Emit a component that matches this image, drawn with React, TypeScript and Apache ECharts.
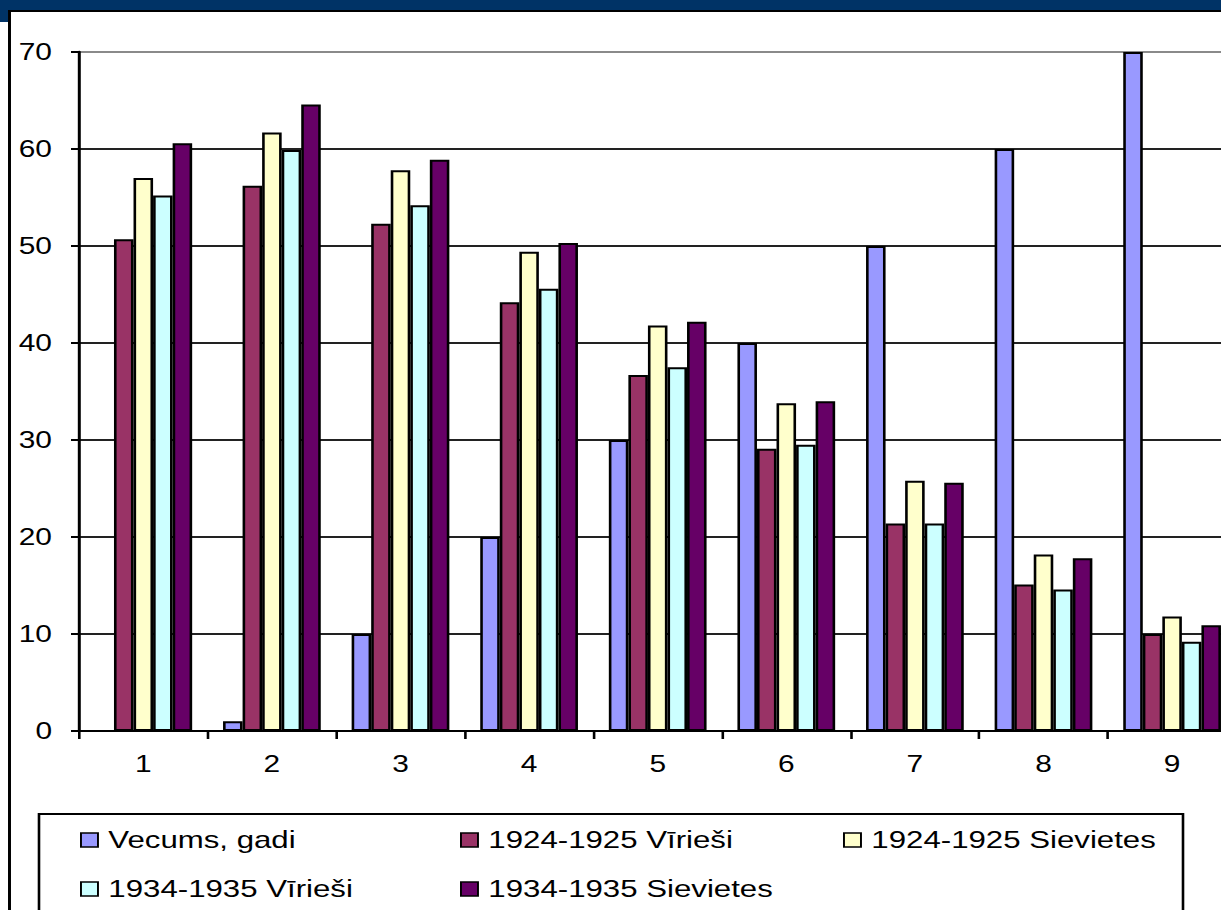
import React, { useEffect, useRef } from "react";
import * as echarts from "echarts";

const categories = ["1", "2", "3", "4", "5", "6", "7", "8", "9"];
const seriesNames = [
  "Vecums, gadi",
  "1924-1925 Vīrieši",
  "1924-1925 Sievietes",
  "1934-1935 Vīrieši",
  "1934-1935 Sievietes",
];
const vecums = [0, 1, 10, 20, 30, 40, 50, 60, 70];
const m1924 = [50.7, 56.2, 52.3, 44.2, 36.7, 29.1, 21.4, 15.1, 10.0];
const f1924 = [57.0, 61.7, 57.8, 49.4, 41.8, 33.8, 25.8, 18.2, 11.8];
const m1934 = [55.2, 59.9, 54.2, 45.6, 37.5, 29.5, 21.4, 14.6, 9.2];
const f1934 = [60.6, 64.6, 58.9, 50.3, 42.2, 34.0, 25.6, 17.8, 10.9];
const colors = ["#9999FF", "#993366", "#FFFFCC", "#CCFFFF", "#660066"];

const S = 1.3; // horizontal stretch of the picture
const W = 1221;
const H = 910;
const CW = Math.ceil(1245 / S);
const X = (px: number) => px / S;

export default function App() {
  const ref = useRef<HTMLDivElement>(null);
  useEffect(() => {
    if (!ref.current) return;
    const chart = echarts.init(ref.current, undefined, { renderer: "svg" });
    const font = "Liberation Sans";
    const data = [vecums, m1924, f1924, m1934, f1934];
    const legendPos = [
      [80, 828],
      [460, 828],
      [843, 828],
      [80, 877],
      [460, 877],
    ];
    const rich = { t: { color: "#000", fontSize: 23, fontFamily: font } };
    chart.setOption({
      animation: false,
      backgroundColor: "#fff",
      grid: { left: X(79), top: 52, width: X(1157.4), height: 679, containLabel: false },
      xAxis: {
        type: "category",
        data: categories,
        axisLine: { lineStyle: { color: "#000", width: 2 } },
        axisTick: { show: true, length: 8, lineStyle: { color: "#000", width: 2 } },
        axisLabel: {
          color: "#000",
          fontSize: 23,
          fontFamily: font,
          margin: 22,
          formatter: "{t|{value}}",
          rich,
        },
      },
      yAxis: {
        type: "value",
        min: 0,
        max: 70,
        interval: 10,
        axisLine: { show: true, lineStyle: { color: "#000", width: 2.3 } },
        axisTick: { show: true, length: X(8), lineStyle: { color: "#000", width: 2 } },
        axisLabel: {
          color: "#000",
          fontSize: 23,
          fontFamily: font,
          margin: X(27),
          formatter: "{t|{value}}",
          rich,
        },
        splitLine: {
          show: true,
          lineStyle: {
            color: ["#000", "#222", "#222", "#222", "#222", "#222", "#222", "#8a8a8a"],
            width: 2,
          },
        },
      },
      legend: seriesNames.map((n, i) => ({
        data: [n],
        left: X(legendPos[i][0]),
        top: legendPos[i][1],
        icon: "rect",
        itemWidth: X(17),
        itemHeight: 14,
        padding: 0,
        selectedMode: false,
        itemStyle: { borderColor: "#000", borderWidth: 1.5 },
        textStyle: { color: "#000", fontSize: 24, fontFamily: font, padding: [0, 0, 0, 3] },
      })),
      graphic: [
        { type: "rect", shape: { x: 0, y: 0, width: CW, height: 10 }, style: { fill: "#003366" }, z: 0 },
        { type: "rect", shape: { x: 0, y: 0, width: X(8), height: 22 }, style: { fill: "#003366" }, z: 0 },
        { type: "line", shape: { x1: X(8), y1: 11, x2: CW, y2: 11 }, style: { stroke: "#000", lineWidth: 2 }, z: 0 },
        { type: "line", shape: { x1: X(9.5), y1: 10, x2: X(9.5), y2: H }, style: { stroke: "#000", lineWidth: 2.3 }, z: 0 },
        {
          type: "rect",
          shape: { x: X(39), y: 814, width: X(1144), height: 140 },
          style: { fill: "#fff", stroke: "#000", lineWidth: 2 },
          z: 0,
        },
      ],
      series: seriesNames.map((n, i) => ({
        name: n,
        type: "bar",
        data: data[i],
        barGap: "0%",
        barCategoryGap: "24%",
        itemStyle: { color: colors[i], borderColor: "#000", borderWidth: 2 },
      })),
    });
    return () => chart.dispose();
  }, []);
  return (
    <div
      style={{
        position: "fixed",
        left: 0,
        top: 0,
        width: W,
        height: H,
        overflow: "hidden",
        background: "#fff",
      }}
    >
      <div
        ref={ref}
        style={{
          width: CW,
          height: H,
          transform: `scaleX(${S})`,
          transformOrigin: "0 0",
        }}
      />
    </div>
  );
}
